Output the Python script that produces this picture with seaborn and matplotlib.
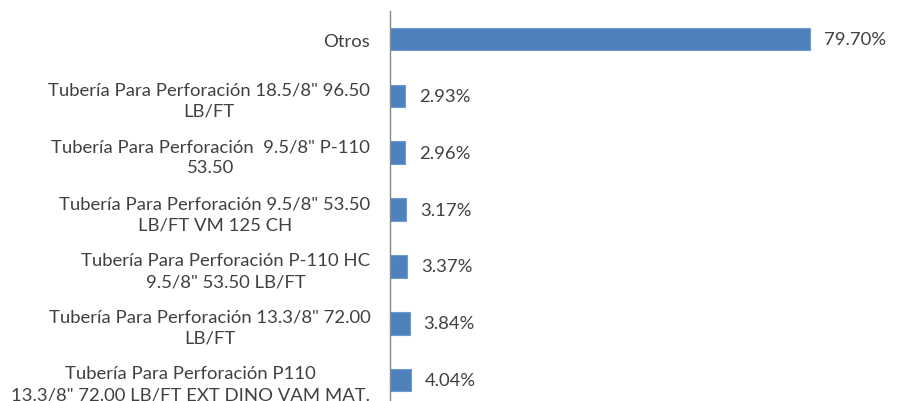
import matplotlib
matplotlib.use('Agg')
import matplotlib.pyplot as plt
import seaborn as sns
import pandas as pd

# data (top to bottom, as in the chart)
categories = [
    'Otros',
    'Tubería Para Perforación 18.5/8" 96.50\nLB/FT',
    'Tubería Para Perforación  9.5/8" P-110\n53.50',
    'Tubería Para Perforación 9.5/8" 53.50\nLB/FT VM 125 CH',
    'Tubería Para Perforación P-110 HC\n9.5/8" 53.50 LB/FT',
    'Tubería Para Perforación 13.3/8" 72.00\nLB/FT',
    'Tubería Para Perforación P110\n13.3/8" 72.00 LB/FT EXT DINO VAM MAT.',
]
shares = [79.70, 2.93, 2.96, 3.17, 3.37, 3.84, 4.04]
value_labels = ['79.70%', '2.93%', '2.96%', '3.17%', '3.37%', '3.84%', '4.04%']

df = pd.DataFrame({'producto': categories, 'share': shares})

sns.set_style('white')
plt.rcParams['font.family'] = ['Lato', 'DejaVu Sans']
text_color = '#404040'
fs = 13.3

fig = plt.figure(figsize=(9, 4.02), dpi=100)
ax = fig.add_axes([0.433, 0.0, 0.557, 0.971])

sns.barplot(data=df, x='share', y='producto', orient='h', color='#4F81BD',
            saturation=1, width=0.4, edgecolor='#6E9BD0', linewidth=0.8, ax=ax)

for i, (v, lab) in enumerate(zip(shares, value_labels)):
    ax.text(v + 2.6, i, lab, va='center', ha='left', fontsize=fs, color=text_color)

ax.set_xlim(0, 95)
ax.set_ylim(6.37, -0.5)
ax.set_xlabel('')
ax.set_ylabel('')
ax.set_xticks([])
ax.tick_params(axis='y', length=0, pad=14, labelsize=fs, labelcolor=text_color)
for t in ax.get_yticklabels():
    t.set_multialignment('center')
    t.set_linespacing(1.4)

for s in ['top', 'right', 'bottom']:
    ax.spines[s].set_visible(False)
ax.spines['left'].set_color('#868686')
ax.spines['left'].set_linewidth(1)

fig.savefig('out.png', dpi=100)
plt.close(fig)
